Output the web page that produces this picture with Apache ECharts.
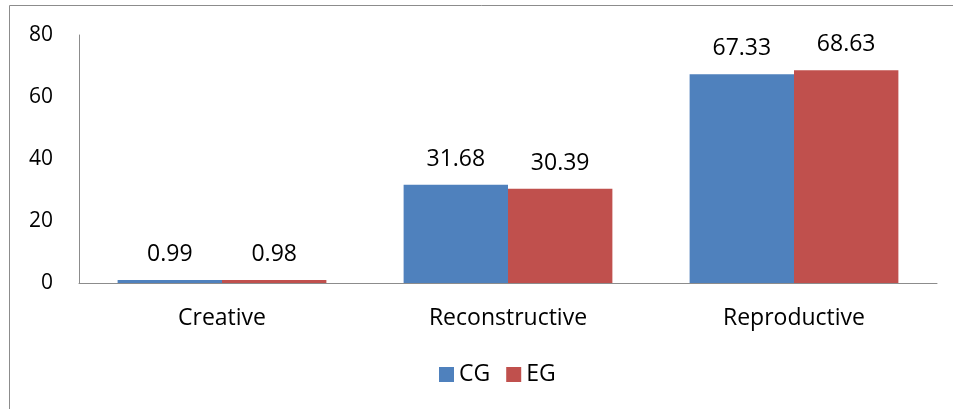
<!DOCTYPE html>
<html><head><meta charset="utf-8">
<script src="https://cdn.jsdelivr.net/npm/echarts@6/dist/echarts.min.js"></script>
<style>html,body{margin:0;padding:0;background:#fff}#c{width:953px;height:409px}</style>
</head><body><div id="c"></div>
<script>
const categories = ['Creative', 'Reconstructive', 'Reproductive'];
const cgValues = [0.99, 31.68, 67.33];
const egValues = [0.98, 30.39, 68.63];
const yTicks = [0, 20, 40, 60, 80];

const font = '"Open Sans", sans-serif';
const chart = echarts.init(document.getElementById('c'), null, {renderer: 'canvas'});
const lbl = {show: true, position: 'top', distance: 14, color: '#000', fontSize: 23, fontFamily: font,
  formatter: p => p.value.toFixed(2)};
chart.setOption({
  animation: false,
  graphic: [{type: 'rect', shape: {x: 9.5, y: 5.5, width: 1000, height: 500},
    style: {fill: 'none', stroke: '#8c8c8c', lineWidth: 1}, silent: true}],
  grid: {left: 79, right: 16, top: 35, bottom: 126},
  legend: {bottom: 18, left: 434, itemWidth: 15, itemHeight: 15, itemGap: 16,
    icon: 'rect', textStyle: {fontSize: 23, fontFamily: font, color: '#000', padding: [0, 0, 0, 0]},
    data: ['CG', 'EG']},
  xAxis: {type: 'category', data: categories,
    axisLine: {lineStyle: {color: '#8c8c8c', width: 1}}, axisTick: {show: false},
    axisLabel: {fontSize: 23, fontFamily: font, color: '#000', margin: 24}},
  yAxis: {type: 'value', min: yTicks[0], max: yTicks[yTicks.length - 1], interval: 20,
    axisLine: {show: true, lineStyle: {color: '#8c8c8c', width: 1}}, axisTick: {show: false},
    splitLine: {show: false},
    axisLabel: {fontSize: 21, fontFamily: font, color: '#000', margin: 26}},
  series: [
    {name: 'CG', type: 'bar', data: cgValues, barGap: '0%', barCategoryGap: '27%',
      itemStyle: {color: '#4f81bd'}, label: lbl},
    {name: 'EG', type: 'bar', data: egValues, barGap: '0%', barCategoryGap: '27%',
      itemStyle: {color: '#c0504d'}, label: lbl}
  ]
});
</script></body></html>
